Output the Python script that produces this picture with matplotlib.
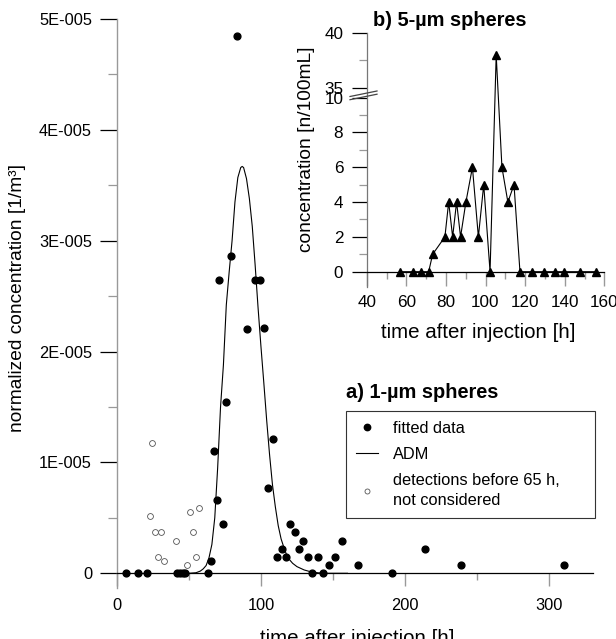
import numpy as np
import matplotlib
matplotlib.use("Agg")
import matplotlib.pyplot as plt
from matplotlib.lines import Line2D

plt.rcParams['font.family'] = ['Liberation Sans', 'DejaVu Sans']

# ---------------- data: a) 1-um spheres (concentration in units of 1E-005 1/m3)
fitted_t = [6.4, 14.5, 20.8, 42.0, 43.9, 45.8, 47.4, 63.1, 65.2, 67.5, 69.6, 71.2,
            73.5, 75.6, 79.3, 83.4, 90.4, 95.9, 99.4, 102.1, 105.1, 108.1, 111.2,
            114.4, 117.2, 120.4, 123.4, 126.4, 129.2, 132.4, 135.4, 139.6, 143.3,
            147.5, 151.4, 156.0, 167.1, 190.7, 214.0, 238.9, 310.4]
fitted_c = [0, 0, 0, 0, 0, 0, 0, 0, 0.114, 1.104, 0.662, 2.647,
            0.442, 1.543, 2.864, 4.849, 2.205, 2.647, 2.647, 2.211, 0.773, 1.212, 0.144,
            0.219, 0.144, 0.442, 0.370, 0.219, 0.294, 0.144, 0, 0.144, 0,
            0.075, 0.144, 0.294, 0.075, 0, 0.219, 0.075, 0.075]

early_t = [24.7, 22.9, 26.8, 30.9, 28.9, 32.8, 40.9, 50.8, 56.8, 52.9, 54.8, 49.0]
early_c = [1.173, 0.514, 0.370, 0.370, 0.144, 0.111, 0.294, 0.550, 0.586, 0.370, 0.144, 0.075]

adm_t = [40, 50, 55, 58, 60, 62, 64, 66, 68, 70, 72, 74, 76, 78, 80, 82, 84, 86, 87,
         88, 90, 92, 94, 96, 98, 100, 102, 104, 106, 108, 110, 112, 114, 116, 118,
         120, 122, 125, 130, 135, 140, 145, 160]
adm_c = [0, 0, 0.005, 0.02, 0.04, 0.07, 0.14, 0.26, 0.50, 0.95, 1.50, 1.88, 2.42,
         2.72, 3.00, 3.35, 3.57, 3.66, 3.67, 3.66, 3.56, 3.38, 3.13, 2.78, 2.40,
         2.05, 1.72, 1.38, 1.07, 0.80, 0.60, 0.43, 0.31, 0.23, 0.16, 0.12, 0.09,
         0.06, 0.03, 0.012, 0.004, 0, 0]

main_yticks = [0, 1, 2, 3, 4, 5]
main_yticklabels = ["0", "1E-005", "2E-005", "3E-005", "4E-005", "5E-005"]
main_xticks = [0, 100, 200, 300]

# ---------------- data: b) 5-um spheres (n/100mL)
b_t = [56.7, 63.6, 67.3, 71.3, 73.3, 79.5, 81.4, 83.4, 85.4, 87.4, 90.1, 93.4,
       96.4, 99.1, 102.3, 105.4, 108.3, 111.3, 114.4, 117.4, 123.6, 129.3, 135.2,
       139.5, 147.9, 155.7]
b_c = [0, 0, 0, 0, 1, 2, 4, 2, 4, 2, 4, 6,
       2, 5, 0, 38, 6, 4, 5, 0, 0, 0, 0,
       0, 0, 0]
b_yticks = [0, 2, 4, 6, 8, 10, 35, 40]
b_xticks = [40, 60, 80, 100, 120, 140, 160]

# ---------------- figure
W, H = 616, 639
fig = plt.figure(figsize=(W / 100, H / 100), dpi=100)


def fx(x):
    return x / W


def fy(y):
    return 1 - y / H


TFS = 11.8   # tick labels
XLFS = 14.8  # x axis labels
YLFS = 13.8  # y axis labels
TITFS = 14.4
GREY = '#999999'

# ---------------- main axes
ax = fig.add_axes([fx(116.7), fy(588), fx(592.6 - 116.7), (588 - 19) / H])
ax.set_xlim(0, 330)
ax.set_ylim(-0.1327e-5, 5e-5)
for s in ['top', 'right']:
    ax.spines[s].set_visible(False)
ax.spines['left'].set_color(GREY)
ax.spines['left'].set_linewidth(1.0)
ax.spines['bottom'].set_position(('data', 0))
ax.spines['bottom'].set_color('black')
ax.spines['bottom'].set_linewidth(0.9)

ax.set_yticks(np.array(main_yticks) * 1e-5)
ax.set_yticklabels(main_yticklabels)
ax.set_yticks((np.array(main_yticks[:-1]) + 0.5) * 1e-5, minor=True)
ax.set_xticks(main_xticks)
ax.set_xticks([50, 150, 250], minor=True)
ax.tick_params(axis='y', which='major', length=12.2, width=0.9, color='black',
               labelsize=TFS, pad=5.5)
ax.tick_params(axis='y', which='minor', length=6.5, width=0.9, color=GREY)
ax.tick_params(axis='x', which='major', length=9.5, width=1.0, color=GREY,
               labelsize=TFS, pad=8)
ax.tick_params(axis='x', which='minor', length=5, width=1.0, color=GREY)

ax.plot(np.array(adm_t), np.array(adm_c) * 1e-5, color='black', lw=0.8,
        label='ADM', zorder=2)
ax.plot(early_t, np.array(early_c) * 1e-5, 'o', ms=4.2, mfc='white', mec='#555555',
        mew=0.6, ls='none', label='detections before 65 h,\nnot considered', zorder=3)
ax.plot(fitted_t, np.array(fitted_c) * 1e-5, 'o', ms=4.9, color='black', ls='none',
        label='fitted data', zorder=4)

ax.set_ylabel('normalized concentration [1/m³]', fontsize=YLFS)
ax.yaxis.label.set_va('center')
ax.yaxis.label.set_ha('center')
ax.yaxis.set_label_coords(fx(18), fy(298), transform=fig.transFigure)
ax.set_xlabel('time after injection [h]', fontsize=XLFS)
ax.xaxis.label.set_va('baseline')
ax.xaxis.set_label_coords(fx(357), fy(644), transform=fig.transFigure)

fig.text(fx(346), fy(393), 'a) 1-µm spheres', fontsize=TITFS, fontweight='bold',
         ha='left', va='center')

handles = [Line2D([], [], marker='o', ms=4.6, color='black', ls='none'),
           Line2D([], [], color='black', lw=0.8),
           Line2D([], [], marker='o', ms=3.6, mfc='white', mec='#555555', mew=0.6, ls='none')]
labels = ['fitted data', 'ADM', 'detections before 65 h,\nnot considered']
leg = ax.legend(handles, labels, loc='upper left',
                bbox_to_anchor=(fx(346), fy(520.7), fx(595 - 346), (520.7 - 410.7) / H),
                bbox_transform=fig.transFigure, mode='expand', fontsize=11.8,
                frameon=True, fancybox=False, edgecolor='#333333', framealpha=1,
                borderpad=0.6, handlelength=1.35, handletextpad=0.9,
                labelspacing=0.7, borderaxespad=0)
leg.get_frame().set_linewidth(0.8)
for t in leg.get_texts():
    t.set_linespacing(1.35)

# ---------------- inset axes with broken y scale
G = 10.575
K = 0.625


def fwd(y):
    y = np.asarray(y, dtype=float)
    return np.where(y <= 10, y,
                    np.where(y < 35, 10 + (y - 10) * (G - 10) / 25, G + (y - 35) * K))


def inv(t):
    t = np.asarray(t, dtype=float)
    return np.where(t <= 10, t,
                    np.where(t < G, 10 + (t - 10) * 25 / (G - 10), 35 + (t - G) / K))


ax2 = fig.add_axes([fx(366.7), fy(286.7), fx(604.3 - 366.7), (286.7 - 33.3) / H])
ax2.set_yscale('function', functions=(fwd, inv))
ax2.set_xlim(40, 160)
ax2.set_ylim(-0.862, 40)
for s in ['top', 'right']:
    ax2.spines[s].set_visible(False)
ax2.spines['left'].set_color('#777777')
ax2.spines['left'].set_linewidth(0.9)
ax2.spines['bottom'].set_position(('data', 0))
ax2.spines['bottom'].set_color('black')
ax2.spines['bottom'].set_linewidth(0.9)

ax2.set_yticks(b_yticks)
ax2.set_yticklabels([str(v) for v in b_yticks])
ax2.set_yticks([1, 3, 5, 7, 9, 37.5], minor=True)
ax2.yaxis.set_minor_formatter(matplotlib.ticker.NullFormatter())
ax2.set_xticks(b_xticks)
ax2.set_xticks([50, 70, 90, 110, 130, 150], minor=True)
ax2.tick_params(axis='y', which='major', length=10.8, width=0.9, color='black',
                labelsize=TFS + 0.5, pad=6)
ax2.tick_params(axis='y', which='minor', length=5.8, width=0.9, color=GREY)
ax2.tick_params(axis='x', which='major', length=10, width=1.0, color=GREY,
                labelsize=TFS + 0.5, pad=7)
ax2.tick_params(axis='x', which='minor', length=5, width=1.0, color=GREY)

ax2.plot(b_t, b_c, color='black', lw=0.8, marker='^', ms=5.2, mfc='black', mec='black')

# break marks across the axis
for dy in (0, 3.2):
    fig.add_artist(Line2D([fx(350), fx(377)], [fy(96.5 + dy), fy(91 + dy)],
                          color='#444444', lw=0.9))

ax2.set_ylabel('concentration [n/100mL]', fontsize=YLFS)
ax2.yaxis.label.set_va('center')
ax2.yaxis.label.set_ha('center')
ax2.yaxis.set_label_coords(fx(306.7), fy(149), transform=fig.transFigure)
ax2.set_xlabel('time after injection [h]', fontsize=XLFS)
ax2.xaxis.label.set_va('baseline')
ax2.xaxis.set_label_coords(fx(478), fy(338), transform=fig.transFigure)

fig.text(fx(450), fy(20), 'b) 5-µm spheres', fontsize=TITFS, fontweight='bold',
         ha='center', va='center')

fig.savefig('out.png', dpi=100)
